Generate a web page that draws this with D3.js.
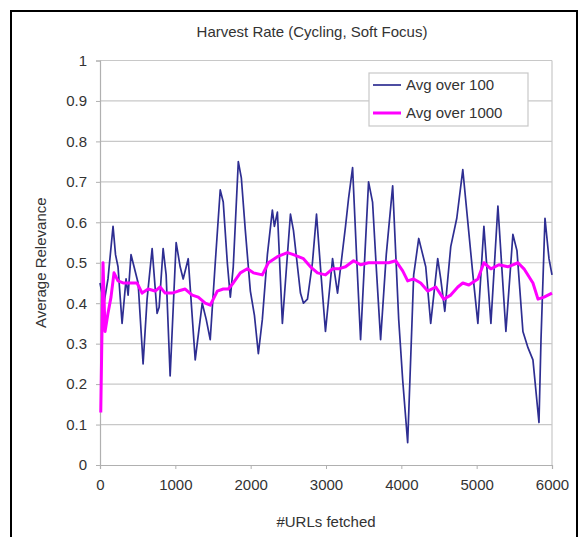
<!DOCTYPE html>
<html>
<head>
<meta charset="utf-8">
<title>Harvest Rate</title>
<style>
  body { margin: 0; background: #fff; }
  text { font-family: Arial, "Liberation Sans", sans-serif; fill: #333; }
</style>
</head>
<body>
<svg id="chart" width="579" height="537"></svg>
<script src="https://d3js.org/d3.v7.min.js"></script>
<script>
// data: [urls fetched, average relevance]
const avg100 = [
  [0, 0.45], [53, 0.40], [106, 0.46], [173, 0.59], [206, 0.52], [239, 0.49], [293, 0.35],
  [346, 0.46], [373, 0.42], [412, 0.52], [452, 0.49], [506, 0.45], [572, 0.25],
  [625, 0.41], [692, 0.535], [758, 0.375], [785, 0.39], [838, 0.535], [878, 0.47],
  [931, 0.22], [1011, 0.55], [1064, 0.49], [1104, 0.46], [1171, 0.51], [1264, 0.26],
  [1357, 0.40], [1410, 0.36], [1463, 0.31], [1530, 0.50], [1596, 0.68], [1636, 0.65],
  [1690, 0.50], [1730, 0.415], [1769, 0.49], [1836, 0.75], [1876, 0.71], [1929, 0.58],
  [1969, 0.49], [1996, 0.43], [2050, 0.37], [2102, 0.275], [2155, 0.36], [2222, 0.52],
  [2288, 0.63], [2315, 0.59], [2355, 0.625], [2390, 0.48], [2421, 0.35], [2480, 0.50],
  [2528, 0.62], [2568, 0.58], [2661, 0.425], [2701, 0.40], [2754, 0.41], [2820, 0.50],
  [2874, 0.62], [2930, 0.48], [2993, 0.33], [3087, 0.51], [3153, 0.425], [3259, 0.59],
  [3300, 0.66], [3353, 0.735], [3410, 0.50], [3459, 0.31], [3565, 0.70], [3618, 0.65],
  [3670, 0.48], [3725, 0.31], [3800, 0.52], [3885, 0.69], [3965, 0.36], [4018, 0.21],
  [4084, 0.055], [4164, 0.47], [4231, 0.56], [4271, 0.53], [4324, 0.49], [4390, 0.35],
  [4483, 0.51], [4523, 0.46], [4577, 0.38], [4656, 0.54], [4736, 0.61], [4816, 0.73],
  [4883, 0.60], [4950, 0.47], [5016, 0.35], [5096, 0.59], [5189, 0.35], [5282, 0.64],
  [5388, 0.33], [5481, 0.57], [5535, 0.53], [5614, 0.33], [5681, 0.29], [5747, 0.26],
  [5827, 0.105], [5854, 0.31], [5907, 0.61], [5960, 0.51], [6000, 0.47]
];
const avg1000 = [
  [10, 0.13], [40, 0.50], [67, 0.33], [106, 0.375], [146, 0.415], [186, 0.475],
  [239, 0.455], [306, 0.45], [373, 0.45], [439, 0.45], [492, 0.45], [559, 0.425],
  [639, 0.435], [732, 0.43], [798, 0.44], [865, 0.425], [958, 0.425], [1038, 0.43],
  [1131, 0.435], [1224, 0.42], [1304, 0.415], [1397, 0.40], [1463, 0.395], [1557, 0.43],
  [1636, 0.435], [1703, 0.435], [1769, 0.45], [1863, 0.475], [1956, 0.485], [2036, 0.475],
  [2155, 0.47], [2235, 0.50], [2355, 0.515], [2488, 0.525], [2568, 0.52], [2701, 0.51],
  [2794, 0.49], [2887, 0.475], [2993, 0.47], [3087, 0.485], [3166, 0.485], [3259, 0.49],
  [3366, 0.505], [3459, 0.495], [3565, 0.50], [3698, 0.50], [3832, 0.50], [3925, 0.505],
  [4018, 0.48], [4084, 0.455], [4164, 0.46], [4257, 0.45], [4350, 0.43], [4457, 0.44],
  [4563, 0.41], [4656, 0.42], [4750, 0.44], [4816, 0.45], [4896, 0.445], [5016, 0.46],
  [5096, 0.50], [5189, 0.485], [5295, 0.495], [5415, 0.49], [5548, 0.50], [5628, 0.485],
  [5747, 0.45], [5814, 0.41], [5894, 0.415], [6000, 0.425]
];
const xTicks = [0, 1000, 2000, 3000, 4000, 5000, 6000];
const yTicks = [0, 0.1, 0.2, 0.3, 0.4, 0.5, 0.6, 0.7, 0.8, 0.9, 1];
const seriesNames = ["Avg over 100", "Avg over 1000"];
const seriesColors = ["#2e2e92", "#ff00ff"];

const svg = d3.select("#chart");
const plotLeft = 100, plotRight = 552, plotTop = 60.5, plotBottom = 465;

const x = d3.scaleLinear().domain([0, 6000]).range([plotLeft, plotRight]);
const y = d3.scaleLinear().domain([0, 1]).range([plotBottom, plotTop]);

// outer frame
svg.append("rect")
  .attr("x", 11).attr("y", 11).attr("width", 566).attr("height", 560)
  .attr("fill", "none").attr("stroke", "#000").attr("stroke-width", 2);

// gridlines
svg.append("g")
  .selectAll("line")
  .data(yTicks.slice(1))
  .join("line")
  .attr("x1", plotLeft).attr("x2", plotRight)
  .attr("y1", d => y(d)).attr("y2", d => y(d))
  .attr("stroke", "#c8c8c8").attr("stroke-width", 1.2);

// plot border (right side)
svg.append("line")
  .attr("x1", plotRight).attr("x2", plotRight).attr("y1", plotTop).attr("y2", plotBottom)
  .attr("stroke", "#c8c8c8").attr("stroke-width", 1.2);

// axes
const xAxis = svg.append("g")
  .attr("transform", `translate(0,${plotBottom})`)
  .call(d3.axisBottom(x).tickValues(xTicks).tickSize(4).tickPadding(10).tickFormat(d3.format("d")));
const yAxis = svg.append("g")
  .attr("transform", `translate(${plotLeft},0)`)
  .call(d3.axisLeft(y).tickValues(yTicks).tickSize(4).tickPadding(9).tickFormat(d => d === 0 || d === 1 ? d : d3.format(".1f")(d)));

[xAxis, yAxis].forEach(g => {
  g.select(".domain").attr("stroke", "#b0b0b0").attr("stroke-width", 1.2);
  g.selectAll(".tick line").attr("stroke", "#b0b0b0");
  g.selectAll(".tick text").attr("font-size", 15).attr("fill", "#333")
    .attr("font-family", "Arial, 'Liberation Sans', sans-serif");
});

// lines
const line = d3.line().x(d => x(d[0])).y(d => y(d[1]));

svg.append("path")
  .datum(avg100)
  .attr("d", line)
  .attr("fill", "none")
  .attr("stroke", seriesColors[0])
  .attr("stroke-width", 1.7)
  .attr("stroke-linejoin", "round");

svg.append("path")
  .datum(avg1000)
  .attr("d", line)
  .attr("fill", "none")
  .attr("stroke", seriesColors[1])
  .attr("stroke-width", 3)
  .attr("stroke-linejoin", "round");

// title and axis labels
svg.append("text")
  .attr("x", 312).attr("y", 37)
  .attr("text-anchor", "middle").attr("font-size", 15)
  .text("Harvest Rate (Cycling, Soft Focus)");

svg.append("text")
  .attr("x", 326).attr("y", 527)
  .attr("text-anchor", "middle").attr("font-size", 15)
  .text("#URLs fetched");

svg.append("text")
  .attr("transform", `translate(46,${(plotTop + plotBottom) / 2}) rotate(-90)`)
  .attr("text-anchor", "middle").attr("font-size", 15)
  .text("Average Relevance");

// legend
const legend = svg.append("g").attr("transform", "translate(369,73)");
legend.append("rect")
  .attr("width", 159).attr("height", 53)
  .attr("fill", "#fff").attr("stroke", "#c8c8c8").attr("stroke-width", 1.2);

seriesNames.forEach((name, i) => {
  const row = legend.append("g").attr("transform", `translate(0,${12 + i * 28})`);
  row.append("line")
    .attr("x1", 4).attr("x2", 32).attr("y1", 0).attr("y2", 0)
    .attr("stroke", seriesColors[i]).attr("stroke-width", i === 0 ? 1.7 : 3);
  row.append("text")
    .attr("x", 37).attr("y", 5).attr("font-size", 15)
    .text(name);
});
</script>
</body>
</html>
